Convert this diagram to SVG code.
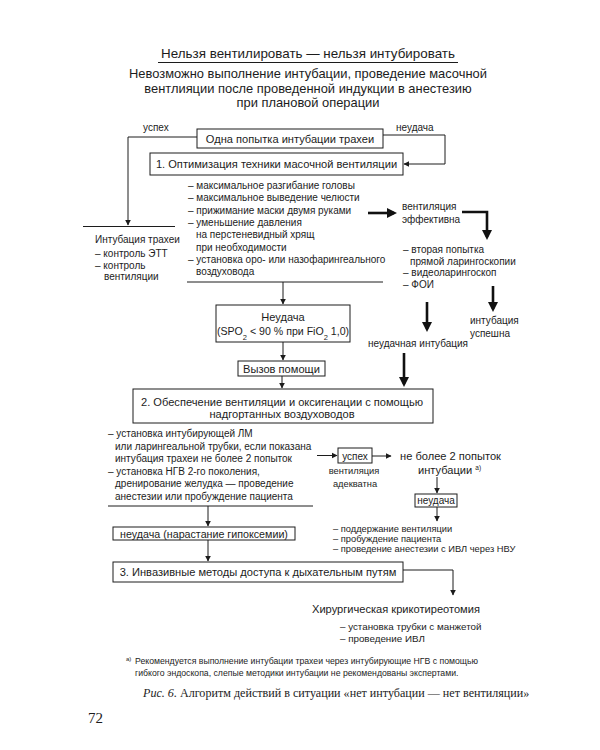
<svg xmlns="http://www.w3.org/2000/svg" width="600" height="750" viewBox="0 0 600 750">
<defs>
<style>
text{font-family:"Liberation Sans",Arial,sans-serif;fill:#1c1c1c}
.t13{font-size:13.4px}
.s13{font-size:12.9px}
.b11{font-size:11.1px}
.l10{font-size:10px}
.l9{font-size:9.3px}
.fn{font-size:8.7px}
.cap{font-family:"Liberation Serif","Times New Roman",serif;font-size:12.1px}
.mid{text-anchor:middle}
.box{fill:#fff;stroke:#1c1c1c;stroke-width:1}
.sep{stroke:#1c1c1c;stroke-width:1;fill:none}
.thin{stroke:#1c1c1c;stroke-width:1;fill:none;marker-end:url(#ah)}
.thick{stroke:#111;stroke-width:2.6;fill:none;marker-end:url(#ahT)}
</style>
<marker id="ah" viewBox="0 0 10 10" refX="9" refY="5" markerWidth="6" markerHeight="7" markerUnits="userSpaceOnUse" orient="auto"><path d="M0,0 L10,5 L0,10 z" fill="#1c1c1c"/></marker>
<marker id="ahT" viewBox="0 0 10 10" refX="7" refY="5" markerWidth="10" markerHeight="10" markerUnits="userSpaceOnUse" orient="auto"><path d="M0,0 L10,5 L0,10 z" fill="#111"/></marker>
</defs>
<rect width="600" height="750" fill="#fff"/>

<g id="connectors">
<path class="thin" d="M197,137 H128 V225"/>
<path class="thin" d="M383,135 H445 V164 H404"/>
<path class="thick" d="M368,213 H394"/>
<path class="thick" d="M462,212 H487 V237"/>
<path class="thick" d="M493,286 V309"/>
<path class="thick" d="M427,302 V329"/>
<path class="thick" d="M404,353 V384"/>
<path class="thin" d="M283,282 V304"/>
<path class="thin" d="M283,342 V360"/>
<path class="thin" d="M282,376 V388"/>
<path class="thin" d="M208,506 V526"/>
<path class="thin" d="M317,455.5 H337"/>
<path class="thin" d="M372,456 H391"/>
<path class="thin" d="M437,477 V493"/>
<path class="thin" d="M437,507 V521"/>
<path class="thin" d="M208,540 V561"/>
<path class="thin" d="M403,570 H453 V595"/>
</g>

<g id="title">
<text class="t13 mid" x="308" y="58">Нельзя вентилировать — нельзя интубировать</text>
<line class="sep" x1="158" y1="62.5" x2="458" y2="62.5"/>
</g>

<g id="subtitle">
<text class="s13 mid" x="308" y="78">Невозможно выполнение интубации, проведение масочной</text>
<text class="s13 mid" x="308" y="93">вентлияции после проведенной индукции в анестезию</text>
<text class="s13 mid" x="308" y="107">при плановой операции</text>
</g>

<g id="start">
<rect class="box" x="197" y="129" width="186" height="19"/>
<text class="b11 mid" x="290" y="143">Одна попытка интубации трахеи</text>
<text class="l10" x="143" y="131">успех</text>
<text class="l10" x="396" y="131">неудача</text>
</g>

<g id="step1">
<rect class="box" x="150" y="153" width="253" height="22"/>
<text class="b11 mid" x="276.5" y="168">1. Оптимизация техники масочной вентиляции</text>
</g>

<g id="list1">
<text class="l10" x="188" y="189">– максимальное разгибание головы</text>
<text class="l10" x="188" y="201.3">– максимальное выведение челюсти</text>
<text class="l10" x="188" y="213.6">– прижимание маски двумя руками</text>
<text class="l10" x="188" y="226">– уменьшение давления</text>
<text class="l10" x="196" y="238.3">на перстеневидный хрящ</text>
<text class="l10" x="196" y="250.6">при необходимости</text>
<text class="l10" x="188" y="263">– установка оро- или назофарингеального</text>
<text class="l10" x="196" y="275.3">воздуховода</text>
<line class="sep" x1="187" y1="282" x2="383" y2="282"/>
</g>

<g id="intubation">
<line class="sep" x1="83" y1="226.5" x2="175" y2="226.5"/>
<text class="l10" x="95" y="243">Интубация трахеи</text>
<text class="l10" x="95" y="257">– контроль ЭТТ</text>
<text class="l10" x="95" y="268.5">– контроль</text>
<text class="l10" x="104" y="280">вентиляции</text>
</g>

<g id="vent-effective">
<text class="l10" x="402" y="210">вентиляция</text>
<text class="l10" x="402" y="223">эффективна</text>
</g>

<g id="second-attempt">
<text class="l10" x="403" y="253">– вторая попытка</text>
<text class="l10" x="410" y="264.7">прямой ларингоскопии</text>
<text class="l10" x="403" y="276.4">– видеоларингоскоп</text>
<text class="l10" x="403" y="288">– ФОИ</text>
</g>

<g id="intub-success">
<text class="l10" x="470" y="324">интубация</text>
<text class="l10" x="470" y="337">успешна</text>
</g>

<g id="intub-failed">
<text class="l10" x="368" y="347">неудачная интубация</text>
</g>

<g id="failure">
<rect class="box" x="216" y="305" width="134" height="37"/>
<text class="b11 mid" x="283" y="321">Неудача</text>
<text class="mid" x="283" y="335" style="font-size:10.6px">(SPO<tspan baseline-shift="sub" style="font-size:7.5px">2</tspan> &lt; 90 % при FiO<tspan baseline-shift="sub" style="font-size:7.5px">2</tspan> 1,0)</text>
</g>

<g id="call-help">
<rect class="box" x="238" y="361" width="87" height="15"/>
<text class="b11 mid" x="281.5" y="373">Вызов помощи</text>
</g>

<g id="step2">
<rect class="box" x="133" y="389" width="300" height="34"/>
<text class="b11 mid" x="282" y="406">2. Обеспечение вентиляции и оксигенации с помощью</text>
<text class="b11 mid" x="282" y="418">надгортанных воздуховодов</text>
</g>

<g id="list2">
<text class="l10" x="108" y="437">– установка интубирующей ЛМ</text>
<text class="l10" x="115" y="449.6">или ларингеальной трубки, если показана</text>
<text class="l10" x="115" y="462.2">интубация трахеи не более 2 попыток</text>
<text class="l10" x="108" y="474.8">– установка НГВ 2-го поколения,</text>
<text class="l10" x="115" y="487.4">дренирование желудка — проведение</text>
<text class="l10" x="115" y="500">анестезии или пробуждение пациента</text>
<line class="sep" x1="108" y1="506" x2="313" y2="506"/>
</g>

<g id="success2">
<rect class="box" x="338" y="448" width="34" height="15"/>
<text class="l10 mid" x="355" y="459.5">успех</text>
<text class="l9 mid" x="354" y="474">вентиляция</text>
<text class="l9 mid" x="355" y="487">адекватна</text>
</g>

<g id="max-two">
<text class="b11" x="400" y="460">не более 2 попыток</text>
<text class="b11" x="418" y="474">интубации <tspan dy="-4" style="font-size:6.5px">а)</tspan></text>
</g>

<g id="failure-small">
<rect class="box" x="415" y="494" width="42" height="13"/>
<text class="l10 mid" x="436" y="504">неудача</text>
</g>

<g id="list3">
<text class="l9" x="333" y="532">– поддержание вентиляции</text>
<text class="l9" x="333" y="542">– пробуждение пациента</text>
<text class="l9" x="333" y="552">– проведение анестезии с ИВЛ через НВУ</text>
</g>

<g id="hypoxemia">
<rect class="box" x="113" y="527" width="182" height="13"/>
<text class="mid" x="204" y="537.5" style="font-size:10.7px">неудача (нарастание гипоксемии)</text>
</g>

<g id="step3">
<rect class="box" x="113" y="562" width="290" height="20"/>
<text class="b11 mid" x="258" y="576">3. Инвазивные методы доступа к дыхательным путям</text>
</g>

<g id="surgical">
<text class="b11" x="312" y="613">Хирургическая крикотиреотомия</text>
<text class="l10" x="340" y="630" style="font-size:9.8px">– установка трубки с манжетой</text>
<text class="l10" x="340" y="642" style="font-size:9.8px">– проведение ИВЛ</text>
</g>

<g id="footnote">
<text x="126" y="661" style="font-size:6px">а)</text>
<text class="fn" x="135" y="664">Рекомендуется выполнение интубации трахеи через интубирующие НГВ с помощью</text>
<text class="fn" x="135" y="676">гибкого эндоскопа, слепые методики интубации не рекомендованы экспертами.</text>
</g>

<g id="caption">
<text class="cap" x="143" y="697"><tspan font-style="italic">Рис. 6.</tspan> Алгоритм действий в ситуации «нет интубации — нет вентиляции»</text>
</g>

<g id="page">
<text x="88" y="723" style="font-family:'Liberation Serif','Times New Roman',serif;font-size:15px">72</text>
</g>
</svg>
